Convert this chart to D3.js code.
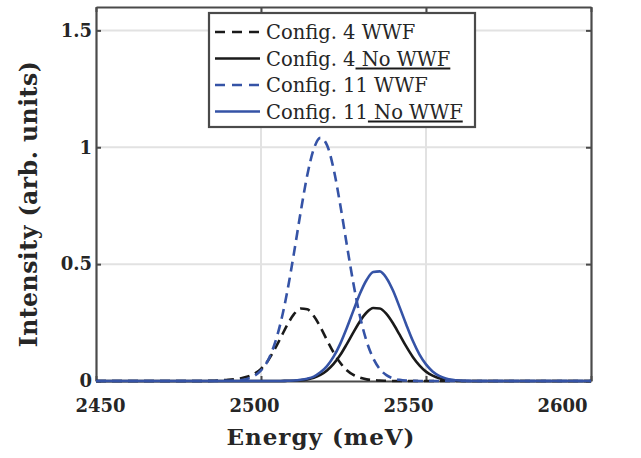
<!DOCTYPE html>
<html>
<head>
<meta charset="utf-8">
<script src="https://cdn.jsdelivr.net/npm/d3@7"></script>
<style>
  body { margin: 0; background: #fff; }
  svg { display: block; }
</style>
</head>
<body>
<svg id="chart"></svg>
<script>
var width = 641;
var height = 458;
var margin = {top: 7, right: 50, bottom: 77, left: 96};

// energy grid (meV) and the four spectra
var energy = [2450, 2460, 2470, 2480,
    2486, 2488, 2490, 2492, 2494, 2496, 2498, 2500, 2502, 2504,
    2506, 2508, 2510, 2512, 2514, 2516, 2518, 2520, 2522, 2524,
    2526, 2528, 2530, 2532, 2534, 2536, 2538, 2540, 2542, 2544,
    2546, 2548, 2550, 2552, 2554, 2556, 2558, 2560, 2562, 2564,
    2566, 2570, 2580, 2590, 2600];

var config4WWF = [0, 0, 0, 0,
    0.001, 0.003, 0.005, 0.008, 0.012, 0.019, 0.031, 0.052, 0.085, 0.132,
    0.186, 0.241, 0.286, 0.310, 0.307, 0.278, 0.231, 0.175, 0.122, 0.078,
    0.046, 0.026, 0.014, 0.007, 0.004, 0.002, 0.001, 0, 0, 0,
    0, 0, 0, 0, 0, 0, 0, 0, 0, 0,
    0, 0, 0, 0, 0];

var config4NoWWF = [0, 0, 0, 0,
    0, 0, 0, 0, 0, 0, 0, 0, 0, 0,
    0, 0.001, 0.001, 0.003, 0.007, 0.014, 0.026, 0.045, 0.073, 0.111,
    0.158, 0.208, 0.256, 0.293, 0.312, 0.310, 0.287, 0.247, 0.198, 0.148,
    0.103, 0.067, 0.040, 0.023, 0.012, 0.006, 0.003, 0.001, 0, 0,
    0, 0, 0, 0, 0];

var config11WWF = [0, 0, 0, 0,
    0, 0.001, 0.001, 0.002, 0.004, 0.010, 0.022, 0.045, 0.085, 0.153,
    0.252, 0.386, 0.548, 0.721, 0.879, 0.993, 1.040, 1.009, 0.907, 0.755,
    0.583, 0.417, 0.276, 0.170, 0.097, 0.051, 0.025, 0.011, 0.005, 0.002,
    0.001, 0, 0, 0, 0, 0, 0, 0, 0, 0,
    0, 0, 0, 0, 0];

var config11NoWWF = [0, 0, 0, 0,
    0, 0, 0, 0, 0, 0, 0, 0, 0, 0,
    0, 0.001, 0.002, 0.005, 0.010, 0.019, 0.037, 0.064, 0.104, 0.159,
    0.227, 0.301, 0.374, 0.432, 0.466, 0.469, 0.441, 0.387, 0.316, 0.242,
    0.172, 0.114, 0.071, 0.041, 0.022, 0.011, 0.005, 0.002, 0.001, 0,
    0, 0, 0, 0, 0];

var xTicks = [2450, 2500, 2550, 2600];
var yTicks = [0, 0.5, 1, 1.5];

var seriesNames = ["Config. 4 WWF", "Config. 4 No WWF", "Config. 11 WWF", "Config. 11 No WWF"];
var underlineFrom = [-1, 9, -1, 10];   // char index where the underline begins
var seriesColours = ["#1a1a1a", "#1a1a1a", "#3553a6", "#3553a6"];
var seriesDashed = [true, false, true, false];
var seriesValues = [config4WWF, config4NoWWF, config11WWF, config11NoWWF];

var axisColour = "#4a4a4a";
var textColour = "#262626";

var svg = d3.select("#chart").attr("width", width).attr("height", height);

var scaleX = d3.scaleLinear().domain([2450, 2600]).range([margin.left, width - margin.right]);
var scaleY = d3.scaleLinear().domain([0, 1.6]).range([height - margin.bottom, margin.top]);
// the x tick labels in the original sit slightly compressed toward the left
var labelX = d3.scaleLinear().domain([2450, 2600]).range([100, 562]);

// grid
svg.append("g").selectAll("line").data([2500, 2550]).enter().append("line")
    .attr("x1", function(d) {return scaleX(d)})
    .attr("x2", function(d) {return scaleX(d)})
    .attr("y1", scaleY(0))
    .attr("y2", scaleY(1.6))
    .attr("stroke", "#e2e2e2")
    .attr("stroke-width", 2);
svg.append("g").selectAll("line").data([0.5, 1, 1.5]).enter().append("line")
    .attr("x1", scaleX(2450))
    .attr("x2", scaleX(2600))
    .attr("y1", function(d) {return scaleY(d)})
    .attr("y2", function(d) {return scaleY(d)})
    .attr("stroke", "#e2e2e2")
    .attr("stroke-width", 2);

function styleAxis(g) {
    g.selectAll(".domain").attr("stroke", axisColour).attr("stroke-width", 2.2);
    g.selectAll(".tick line").attr("stroke", axisColour).attr("stroke-width", 2);
    g.selectAll("text")
        .attr("fill", textColour)
        .style("font-family", "'DejaVu Serif', serif")
        .style("font-weight", "bold")
        .style("font-size", "18px");
}

var axisBottom = svg.append("g")
    .attr("transform", "translate(0," + scaleY(0) + ")")
    .call(d3.axisBottom(scaleX).tickValues(xTicks).tickSize(-5).tickSizeOuter(0).tickFormat(String));
axisBottom.selectAll(".tick text")
    .attr("x", function(d) {return labelX(d) - scaleX(d)})
    .attr("y", 31)
    .attr("dy", 0);
styleAxis(axisBottom);

var axisTop = svg.append("g")
    .attr("transform", "translate(0," + scaleY(1.6) + ")")
    .call(d3.axisTop(scaleX).tickValues(xTicks).tickSize(-5).tickSizeOuter(0).tickFormat(""));
styleAxis(axisTop);

var axisLeft = svg.append("g")
    .attr("transform", "translate(" + scaleX(2450) + ",0)")
    .call(d3.axisLeft(scaleY).tickValues(yTicks).tickSize(-5).tickSizeOuter(0).tickPadding(4).tickFormat(String));
styleAxis(axisLeft);

var axisRight = svg.append("g")
    .attr("transform", "translate(" + scaleX(2600) + ",0)")
    .call(d3.axisRight(scaleY).tickValues(yTicks).tickSize(-5).tickSizeOuter(0).tickFormat(""));
styleAxis(axisRight);

// curves
var line = d3.line()
    .x(function(d, i) {return scaleX(energy[i])})
    .y(function(d) {return scaleY(d)})
    .curve(d3.curveMonotoneX);

for (var s = 0; s < seriesValues.length; s++) {
    svg.append("path")
        .datum(seriesValues[s])
        .attr("d", line)
        .attr("fill", "none")
        .attr("stroke", seriesColours[s])
        .attr("stroke-width", 2.6)
        .attr("stroke-dasharray", seriesDashed[s] ? "10,6" : null);
}

// axis labels
svg.append("text")
    .text("Energy (meV)")
    .attr("x", 321)
    .attr("y", 445)
    .attr("text-anchor", "middle")
    .attr("fill", textColour)
    .style("font-family", "'DejaVu Serif', serif")
    .style("font-weight", "bold")
    .style("font-size", "23px")
    .style("letter-spacing", "1px");

svg.append("text")
    .text("Intensity (arb. units)")
    .attr("transform", "translate(37,204) rotate(-90)")
    .attr("text-anchor", "middle")
    .attr("fill", textColour)
    .style("font-family", "'DejaVu Serif', serif")
    .style("font-weight", "bold")
    .style("font-size", "23.5px")
    .style("letter-spacing", "0.5px");

// legend
var legend = svg.append("g");
legend.append("rect")
    .attr("x", 209)
    .attr("y", 13)
    .attr("width", 266)
    .attr("height", 114)
    .attr("fill", "#fff")
    .attr("stroke", axisColour)
    .attr("stroke-width", 2.2);

var rowY = [32, 58.5, 85, 111.5];
seriesNames.forEach(function(name, i) {
    legend.append("line")
        .attr("x1", 215)
        .attr("x2", 260)
        .attr("y1", rowY[i])
        .attr("y2", rowY[i])
        .attr("stroke", seriesColours[i])
        .attr("stroke-width", 2.6)
        .attr("stroke-dasharray", seriesDashed[i] ? "10,7" : null);
    var t = legend.append("text")
        .text(name)
        .attr("x", 266)
        .attr("y", rowY[i] + 7)
        .attr("fill", textColour)
        .style("font-family", "'DejaVu Serif', serif")
        .style("font-size", "19.5px");
    if (underlineFrom[i] >= 0) {
        var node = t.node();
        var x0 = 266 + node.getSubStringLength(0, underlineFrom[i]);
        var x1 = 266 + node.getComputedTextLength();
        legend.append("line")
            .attr("x1", x0)
            .attr("x2", x1)
            .attr("y1", rowY[i] + 10)
            .attr("y2", rowY[i] + 10)
            .attr("stroke", "#1a1a1a")
            .attr("stroke-width", 2);
    }
});
</script>
</body>
</html>
